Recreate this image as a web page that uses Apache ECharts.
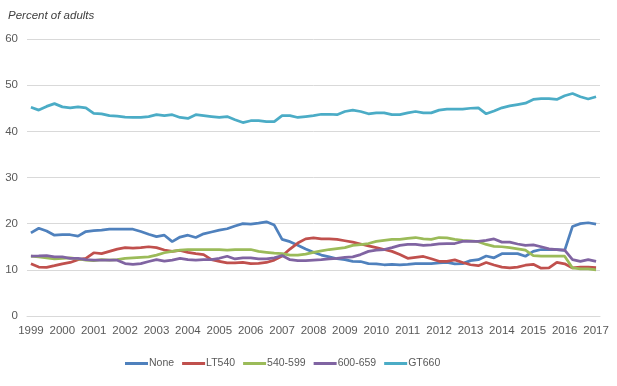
<!DOCTYPE html>
<html>
<head>
<meta charset="utf-8">
<script src="https://cdn.jsdelivr.net/npm/echarts@6/dist/echarts.min.js"></script>
<style>
html,body{margin:0;padding:0;background:#fff;}
#chart{width:617px;height:386px;}
</style>
</head>
<body>
<div id="chart"></div>
<script>
// Quarterly observations, 1999 Q1 – 2017 Q1
var years = [1999,2000,2001,2002,2003,2004,2005,2006,2007,2008,2009,2010,2011,2012,2013,2014,2015,2016,2017];
var seriesNames = ['None','LT540','540-599','600-659','GT660'];
var yTicks = [0,10,20,30,40,50,60];

var none = [18.0,19.0,18.4,17.5,17.6,17.6,17.3,18.3,18.5,18.6,18.8,18.8,18.8,18.8,18.3,17.7,17.2,17.5,16.1,17.1,17.5,17.0,17.8,18.2,18.6,18.9,19.5,20.0,19.9,20.1,20.4,19.7,16.6,16.1,15.3,14.5,13.8,13.2,12.8,12.4,12.2,11.85,11.8,11.35,11.3,11.1,11.2,11.1,11.2,11.35,11.35,11.35,11.5,11.6,11.3,11.35,12.0,12.2,13.0,12.6,13.5,13.5,13.5,12.95,14.0,14.4,14.4,14.4,14.2,19.4,20.0,20.2,19.9];
var lt540 = [11.3,10.6,10.55,10.9,11.3,11.6,12.2,12.5,13.7,13.5,14.0,14.5,14.8,14.7,14.8,15.0,14.8,14.3,14.0,14.2,13.8,13.5,13.3,12.2,11.85,11.5,11.5,11.6,11.35,11.4,11.6,12.1,13.0,14.5,15.8,16.7,16.9,16.7,16.7,16.6,16.3,16.0,15.6,15.2,14.8,14.4,14.0,13.3,12.5,12.7,12.9,12.4,11.85,11.85,12.15,11.6,11.1,10.9,11.6,11.05,10.6,10.4,10.6,11.0,11.2,10.35,10.4,11.6,11.3,10.4,10.6,10.6,10.5];
var s540 = [12.95,12.8,12.6,12.35,12.5,12.6,12.35,12.1,12.0,12.2,12.1,12.2,12.5,12.6,12.7,12.8,13.2,13.7,14.0,14.25,14.4,14.4,14.4,14.4,14.4,14.25,14.4,14.4,14.4,14.0,13.8,13.6,13.5,13.2,13.2,13.4,13.8,14.1,14.4,14.6,14.8,15.3,15.45,15.7,16.15,16.4,16.6,16.6,16.8,17.0,16.7,16.6,17.0,16.9,16.6,16.4,16.25,16.1,15.5,15.1,15.0,14.8,14.55,14.25,13.1,12.95,12.95,12.95,12.95,10.4,10.2,10.2,10.0];
var s600 = [12.95,13.0,13.1,12.8,12.8,12.5,12.5,12.2,12.1,12.1,12.1,12.1,11.35,11.2,11.35,11.8,12.2,11.9,12.1,12.5,12.2,12.1,12.2,12.2,12.5,12.95,12.35,12.6,12.6,12.35,12.35,12.6,13.1,12.2,12.0,12.0,12.1,12.2,12.35,12.5,12.7,12.8,13.3,14.0,14.25,14.4,14.8,15.3,15.5,15.5,15.3,15.4,15.6,15.7,15.7,16.15,16.15,16.15,16.4,16.7,16.0,16.0,15.6,15.3,15.4,15.0,14.55,14.4,14.25,12.2,11.85,12.2,11.85];
var gt660 = [45.2,44.6,45.4,46.0,45.3,45.1,45.3,45.1,43.9,43.8,43.4,43.3,43.1,43.0,43.0,43.2,43.6,43.4,43.6,43.0,42.8,43.6,43.4,43.2,43.0,43.2,42.5,41.9,42.3,42.3,42.1,42.1,43.4,43.4,43.0,43.2,43.4,43.7,43.7,43.6,44.3,44.6,44.3,43.8,44.0,44.0,43.6,43.6,44.0,44.3,44.0,44.0,44.6,44.8,44.8,44.8,45.0,45.1,43.8,44.4,45.1,45.5,45.8,46.1,46.9,47.1,47.1,46.9,47.7,48.2,47.5,47.0,47.5];

var colors = ['#4F81BD','#C0504D','#9BBB59','#8064A2','#4BACC6'];

// category labels: year shown at Q1, blank otherwise
var categories = [];
for (var y = 0; y < years.length; y++) {
  var qs = (y === years.length - 1) ? 1 : 4;
  for (var q = 1; q <= qs; q++) categories.push(years[y] + ' Q' + q);
}

var font = "'Liberation Sans Narrow', 'Liberation Sans', Arial, sans-serif";
var dataArr = [none, lt540, s540, s600, gt660];

var chart = echarts.init(document.getElementById('chart'), null, {renderer: 'canvas'});
chart.setOption({
  animation: false,
  backgroundColor: '#fff',
  color: colors,
  title: {
    text: 'Percent of adults',
    left: 3, top: 5,
    textStyle: {fontFamily: font, fontSize: 11.5, fontStyle: 'italic', fontWeight: 'normal', color: '#404040'}
  },
  grid: {left: 27, right: 17, top: 39, bottom: 70, containLabel: false},
  legend: {
    data: seriesNames,
    left: 120, top: 353,
    icon: 'rect', itemWidth: 23, itemHeight: 3, itemGap: 8,
    textStyle: {fontFamily: font, fontSize: 10.5, color: '#595959', padding: [0, 0, 0, -4]}
  },
  xAxis: {
    type: 'category',
    data: categories,
    boundaryGap: true,
    axisLine: {show: true, lineStyle: {color: '#d9d9d9'}},
    axisTick: {show: false},
    axisLabel: {
      interval: 3, margin: 9,
      fontFamily: font, fontSize: 11.5, color: '#595959',
      formatter: function (v) { return v.split(' ')[0]; }
    }
  },
  yAxis: {
    type: 'value',
    min: yTicks[0], max: yTicks[yTicks.length - 1], interval: 10,
    axisLine: {show: false}, axisTick: {show: false},
    splitLine: {lineStyle: {color: '#d9d9d9', width: 1}},
    axisLabel: {margin: 9, fontFamily: font, fontSize: 11.5, color: '#595959'}
  },
  series: seriesNames.map(function (n, i) {
    return {
      name: n, type: 'line', data: dataArr[i],
      showSymbol: false, symbol: 'none',
      lineStyle: {width: 2.75, color: colors[i]},
      itemStyle: {color: colors[i]}
    };
  })
});
</script>
</body>
</html>
